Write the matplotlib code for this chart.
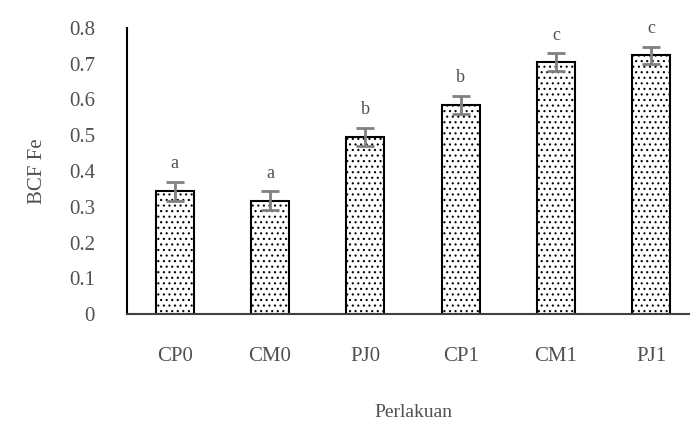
import matplotlib.pyplot as plt
import numpy as np

# BCF Fe per perlakuan
perlakuan = ['CP0', 'CM0', 'PJ0', 'CP1', 'CM1', 'PJ1']
bcf_fe = [0.343, 0.317, 0.495, 0.585, 0.704, 0.724]
galat = [0.026, 0.026, 0.026, 0.026, 0.025, 0.024]
notasi = ['a', 'a', 'b', 'b', 'c', 'c']

plt.rcParams['font.family'] = ['Liberation Serif', 'DejaVu Serif']
plt.rcParams['hatch.linewidth'] = 0.8
txt_color = '#505050'

fig = plt.figure(figsize=(6.9, 4.24), dpi=100)
ax = fig.add_axes([127 / 690, 1 - 314 / 424, 572 / 690, (314 - 28) / 424])

x = np.arange(len(perlakuan))
ax.bar(x, bcf_fe, width=0.4, color='white', edgecolor='black',
       linewidth=1.5, hatch='...', zorder=2)
ax.errorbar(x, bcf_fe, yerr=galat, fmt='none', ecolor='#808080',
            elinewidth=2, capsize=6.5, capthick=2, zorder=3)

for xi, v, e, n in zip(x, bcf_fe, galat, notasi):
    ax.annotate(n, (xi, v + e), xytext=(0, 7), textcoords='offset points',
                ha='center', va='bottom', fontsize=13, color=txt_color)

ax.set_xlim(-0.5, 5.5)
ax.set_ylim(0, 0.8)
ax.set_yticks(np.arange(0, 0.81, 0.1))
ax.set_yticklabels(['0'] + [f'{t:.1f}' for t in np.arange(0.1, 0.81, 0.1)])
ax.set_xticks(x)
ax.set_xticklabels(perlakuan)
ax.tick_params(axis='both', length=0, labelsize=15, labelcolor=txt_color)
ax.tick_params(axis='y', pad=23)
ax.tick_params(axis='x', pad=24)

for s in ['top', 'right']:
    ax.spines[s].set_visible(False)
ax.spines['left'].set_linewidth(1.5)
ax.spines['bottom'].set_linewidth(1.5)
ax.spines['bottom'].set_color('#404040')

ax.set_xlabel('Perlakuan', fontsize=14, color=txt_color, labelpad=27)
ax.set_ylabel('BCF Fe', fontsize=15, color=txt_color, labelpad=16)

fig.savefig('out.png', dpi=100)
